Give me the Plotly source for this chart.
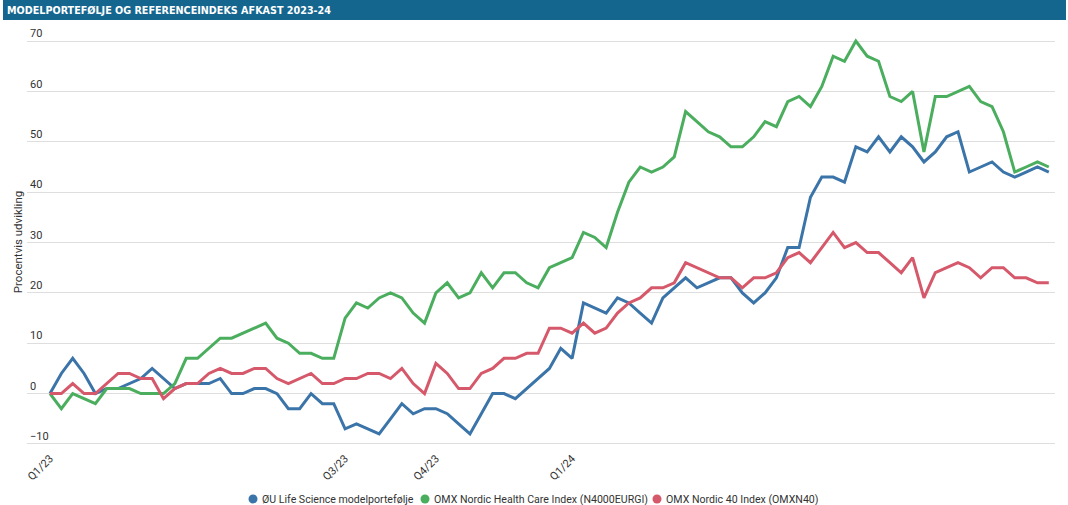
import plotly.graph_objects as go

# ---- data -------------------------------------------------------------
periods = list(range(89))
tick_positions = [0, 26, 34, 46]
tick_labels = ["Q1/23", "Q3/23", "Q4/23", "Q1/24"]

oeu_life_science = [0, 4, 7, 4, 0, 1, 1, 2, 3, 5, 3, 1, 2, 2, 2, 3, 0, 0, 1, 1,
                    0, -3, -3, 0, -2, -2, -7, -6, -7, -8, -5, -2, -4, -3, -3, -4, -6, -8, -4, 0,
                    0, -1, 1, 3, 5, 9, 7, 18, 17, 16, 19, 18, 16, 14, 19, 21, 23, 21, 22, 23,
                    23, 20, 18, 20, 23, 29, 29, 39, 43, 43, 42, 49, 48, 51, 48, 51, 49, 46, 48, 51,
                    52, 44, 45, 46, 44, 43, 44, 45, 44]

omx_health_care = [0, -3, 0, -1, -2, 1, 1, 1, 0, 0, 0, 2, 7, 7, 9, 11, 11, 12, 13, 14,
                   11, 10, 8, 8, 7, 7, 15, 18, 17, 19, 20, 19, 16, 14, 20, 22, 19, 20, 24, 21,
                   24, 24, 22, 21, 25, 26, 27, 32, 31, 29, 36, 42, 45, 44, 45, 47, 56, 54, 52, 51,
                   49, 49, 51, 54, 53, 58, 59, 57, 61, 67, 66, 70, 67, 66, 59, 58, 60, 48, 59, 59,
                   60, 61, 58, 57, 52, 44, 45, 46, 45]

omx_nordic_40 = [0, 0, 2, 0, 0, 2, 4, 4, 3, 3, -1, 1, 2, 2, 4, 5, 4, 4, 5, 5,
                 3, 2, 3, 4, 2, 2, 3, 3, 4, 4, 3, 5, 2, 0, 6, 4, 1, 1, 4, 5,
                 7, 7, 8, 8, 13, 13, 12, 14, 12, 13, 16, 18, 19, 21, 21, 22, 26, 25, 24, 23,
                 23, 21, 23, 23, 24, 27, 28, 26, 29, 32, 29, 30, 28, 28, 26, 24, 27, 19, 24, 25,
                 26, 25, 23, 25, 25, 23, 23, 22, 22]

series_names = ["ØU Life Science modelportefølje",
                "OMX Nordic Health Care Index (N4000EURGI)",
                "OMX Nordic 40 Index (OMXN40)"]
series_values = [oeu_life_science, omx_health_care, omx_nordic_40]
series_colors = ["#3b74a8", "#4bae5e", "#d5596b"]

y_ticks = [-10, 0, 10, 20, 30, 40, 50, 60, 70]

title_text = "MODELPORTEFØLJE OG REFERENCEINDEKS AFKAST 2023-24"
y_title = "Procentvis udvikling"

# ---- layout geometry ---------------------------------------------------
W, H = 1068, 505
ML, MR, MT, MB = 27, 13, 26, 56
pw = W - ML - MR
ph = H - MT - MB

fig = go.Figure()

for name, vals, col in zip(series_names, series_values, series_colors):
    fig.add_trace(go.Scatter(
        x=periods, y=vals, mode="lines", name=name,
        line=dict(color=col, width=3), showlegend=False,
    ))


def px_x(p):
    return (p - ML) / pw


def px_y(p):
    return (H - MB - p) / ph


# title banner
fig.add_shape(type="rect", xref="paper", yref="paper",
              x0=px_x(3), x1=px_x(1066), y0=px_y(20), y1=px_y(0),
              fillcolor="#15668f", line=dict(width=0), layer="above")

annotations = [
    dict(text=title_text, xref="paper", yref="paper", x=px_x(5), y=px_y(10.5),
         xanchor="left", yanchor="middle", showarrow=False,
         font=dict(family="DejaVu Sans Condensed, sans-serif", size=10.7,
                   color="white", weight="bold")),
    dict(text=y_title, xref="paper", yref="paper", x=px_x(17.7), y=px_y(242.5),
         xanchor="center", yanchor="middle", textangle=-90, showarrow=False,
         font=dict(size=11.5, color="#333333")),
]

# custom legend: round dots + labels
legend_dot_x = [253, 425, 657]
legend_y = 499
for name, col, dx in zip(series_names, series_colors, legend_dot_x):
    fig.add_shape(type="circle", xref="paper", yref="paper",
                  xsizemode="pixel", ysizemode="pixel",
                  xanchor=px_x(dx), yanchor=px_y(legend_y),
                  x0=-4.5, x1=4.5, y0=-4.5, y1=4.5,
                  fillcolor=col, line=dict(width=0))
    annotations.append(dict(text=name, xref="paper", yref="paper",
                            x=px_x(dx + 7), y=px_y(legend_y),
                            xanchor="left", yanchor="middle", showarrow=False,
                            font=dict(size=10.6, color="#333333")))

fig.update_layout(
    width=W, height=H,
    margin=dict(l=ML, r=MR, t=MT, b=MB, pad=0, autoexpand=False),
    paper_bgcolor="white", plot_bgcolor="white",
    font=dict(family="Roboto, sans-serif", size=11, color="#333333"),
    showlegend=False,
    annotations=annotations,
    xaxis=dict(range=[-23 / 11.35, 88 + 6.2 / 11.35], tickmode="array",
               tickvals=tick_positions, ticktext=tick_labels, tickangle=-45,
               showgrid=False, zeroline=False, showline=False, ticks="",
               automargin=False,
               tickfont=dict(size=11, color="#333333")),
    yaxis=dict(range=[-11, 73], tickmode="array", tickvals=y_ticks,
               ticklabelposition="inside top", showgrid=True, gridcolor="#dedede",
               gridwidth=1, zeroline=False, showline=False, ticks="",
               automargin=False,
               tickfont=dict(size=11, color="#333333")),
)

fig.write_html("out.html",
               config={"displayModeBar": False},
               post_script="document.body.style.margin='0';document.body.style.overflow='hidden';")
